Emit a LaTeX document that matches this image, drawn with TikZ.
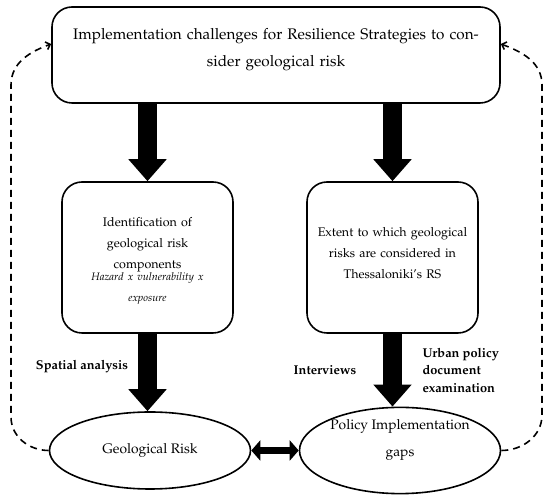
\documentclass[tikz,border=0pt]{standalone}
\usepackage[T1]{fontenc}
\usepackage{mathpazo}
\usepackage{tikz}
\usetikzlibrary{positioning}
\usetikzlibrary{shapes.geometric, arrows.meta}
\tikzstyle{fatarrow} = [line width=19pt,-{Triangle[length=22pt,width=37pt]}]
\tikzstyle{twoway} = [line width=7pt,{Triangle[length=9pt,width=20pt]}-{Triangle[length=9pt,width=20pt]}]
\tikzstyle{loopback} = [line width=1.6pt,dash pattern=on 7pt off 5pt,-{Straight Barb[length=4pt,width=8pt]}]
\tikzstyle{roundbox} = [draw,line width=1.6pt,rounded corners=20pt,align=center,inner sep=0pt]
\tikzstyle{oval} = [draw,ellipse,line width=1.6pt,minimum width=201pt,minimum height=77pt,inner sep=0pt,align=center,font=\fontsize{13.8}{27}\selectfont]
\tikzstyle{method} = [font=\bfseries\fontsize{12.8}{17.5}\selectfont,align=left]

\begin{document}
\begin{tikzpicture}[x=1pt,y=1pt]
	\useasboundingbox (0,0) rectangle (550,495);
	
	%Nodes
	\node [roundbox,minimum width=448pt,minimum height=96pt,text width=430pt,text depth=42pt,font=\fontsize{15.3}{27}\selectfont] (challenges) at (276,440) {Implementation challenges for Resilience Strategies to con-\\sider geological risk};
	\node [roundbox,minimum width=171pt,minimum height=151pt,text width=165pt,text height=15pt,font=\fontsize{12.5}{21}\selectfont] (components) at (147.5,237.5) {Identification of\\geological risk\\components\\[-3pt]{\itshape\fontsize{10.8}{15}\selectfont Hazard x vulnerability x\\exposure}};
	\node [roundbox,minimum width=171pt,minimum height=151pt,text width=165pt,text depth=52pt,font=\fontsize{12.5}{21}\selectfont] (extent) at (392.5,237.5) {Extent to which geological\\risks are considered in\\Thessaloniki's RS};
	\node [oval] (georisk) at (150,44.5) {Geological Risk};
	\node [oval,text depth=24pt] (gaps) at (400,44.5) {Policy Implementation\\gaps};
	
	%Method labels
	\node [method] (spatial) at (82,128) {Spatial analysis};
	\node [method] (interviews) at (325,125) {Interviews};
	\node [method,anchor=west] (urban) at (419,125) {Urban policy\\document\\examination};
	
	%Arrows
	\draw[fatarrow] (challenges.south -| components) -- (components.north);
	\draw[fatarrow] (challenges.south -| extent) -- (extent.north);
	\draw[fatarrow] (components.south) -- (components.south |- georisk.north);
	\draw[fatarrow] (extent.south) -- (extent.south |- gaps.north);
	\draw[twoway] (georisk.east) -- (gaps.west);
	
	%Dashed feedback
	\coordinate (leftUp) at (11,410);
	\coordinate (rightUp) at (542,410);
	\draw[loopback] (georisk.west) to[out=180,in=270] (11,78) -- (leftUp) to[out=90,in=200] ([yshift=11pt]challenges.west);
	\draw[loopback] (gaps.east) to[out=0,in=270] (542,80) -- (rightUp) to[out=90,in=-20] ([yshift=11pt]challenges.east);
\end{tikzpicture}
\end{document}
